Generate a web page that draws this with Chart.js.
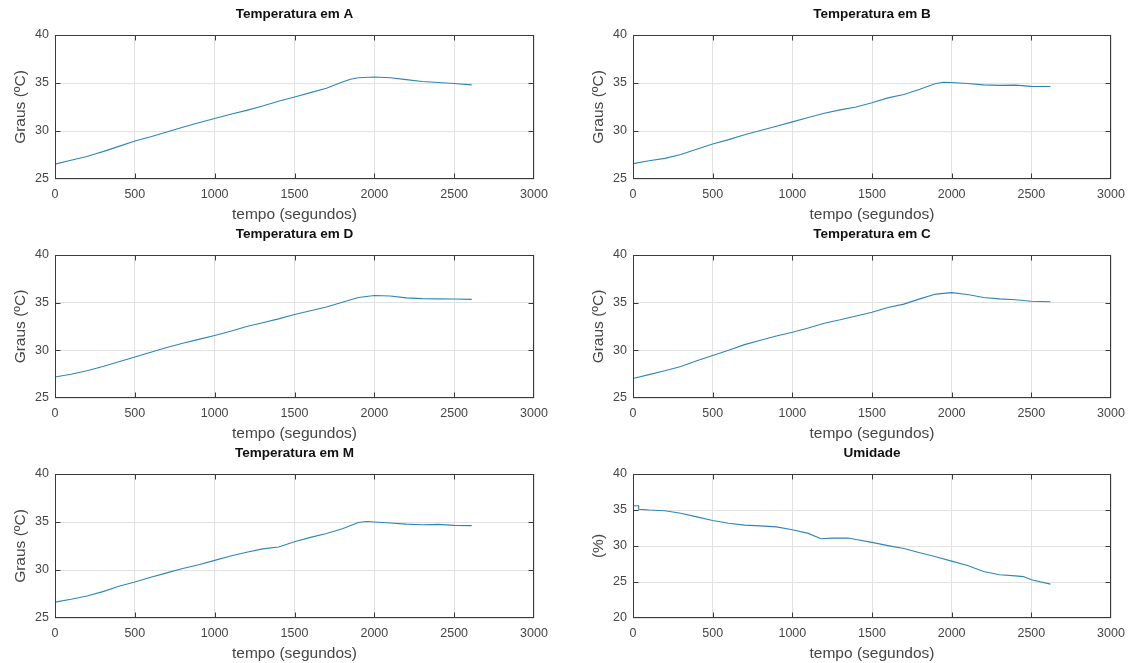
<!DOCTYPE html>
<html>
<head>
<meta charset="utf-8">
<script src="https://cdn.jsdelivr.net/npm/chart.js@4"></script>
<style>
  html, body { margin: 0; padding: 0; background: #fff; }
  body { width: 1129px; height: 663px; position: relative; overflow: hidden; }
  .panel { position: absolute; }
</style>
</head>
<body>
<div class="panel" id="p-a"><canvas id="c-a"></canvas></div>
<div class="panel" id="p-b"><canvas id="c-b"></canvas></div>
<div class="panel" id="p-d"><canvas id="c-d"></canvas></div>
<div class="panel" id="p-c"><canvas id="c-c"></canvas></div>
<div class="panel" id="p-m"><canvas id="c-m"></canvas></div>
<div class="panel" id="p-u"><canvas id="c-u"></canvas></div>
<script>
// valores
const tempoA = [0, 100, 200, 250, 300, 400, 500, 600, 700, 800, 900, 1000, 1100, 1200, 1300, 1400, 1500, 1600, 1700, 1800, 1850, 1900, 2000, 2100, 2200, 2300, 2400, 2500, 2610];
const grausA = [26.55, 26.95, 27.35, 27.6, 27.85, 28.4, 28.95, 29.4, 29.9, 30.4, 30.85, 31.3, 31.75, 32.15, 32.6, 33.1, 33.55, 34.0, 34.45, 35.1, 35.4, 35.55, 35.62, 35.55, 35.35, 35.15, 35.05, 34.95, 34.8];

const tempoB = [0, 100, 200, 300, 400, 500, 600, 700, 800, 900, 1000, 1100, 1200, 1300, 1400, 1500, 1600, 1700, 1800, 1900, 1950, 2000, 2100, 2200, 2300, 2400, 2500, 2620];
const grausB = [26.6, 26.9, 27.15, 27.55, 28.1, 28.65, 29.1, 29.6, 30.05, 30.5, 30.95, 31.4, 31.85, 32.2, 32.5, 32.95, 33.45, 33.8, 34.35, 34.95, 35.08, 35.05, 34.95, 34.8, 34.75, 34.78, 34.65, 34.63];

const tempoD = [0, 100, 200, 300, 400, 500, 600, 700, 800, 900, 1000, 1100, 1200, 1300, 1400, 1500, 1600, 1700, 1800, 1900, 2000, 2100, 2200, 2300, 2400, 2500, 2610];
const grausD = [27.2, 27.5, 27.85, 28.3, 28.8, 29.3, 29.8, 30.3, 30.75, 31.15, 31.55, 32.0, 32.5, 32.9, 33.3, 33.75, 34.15, 34.55, 35.05, 35.55, 35.75, 35.7, 35.5, 35.42, 35.4, 35.38, 35.35];

const tempoC = [0, 100, 200, 300, 400, 500, 600, 700, 800, 900, 1000, 1100, 1200, 1300, 1400, 1500, 1600, 1700, 1800, 1900, 2000, 2100, 2200, 2300, 2400, 2500, 2620];
const grausC = [27.05, 27.45, 27.85, 28.3, 28.9, 29.45, 30.0, 30.6, 31.05, 31.5, 31.9, 32.35, 32.85, 33.2, 33.6, 34.0, 34.5, 34.85, 35.4, 35.9, 36.05, 35.85, 35.55, 35.4, 35.3, 35.15, 35.1];

const tempoM = [0, 100, 200, 300, 400, 500, 600, 700, 800, 900, 1000, 1100, 1200, 1300, 1400, 1500, 1600, 1700, 1800, 1900, 1950, 2000, 2100, 2200, 2300, 2400, 2500, 2610];
const grausM = [26.65, 26.95, 27.3, 27.75, 28.3, 28.75, 29.25, 29.7, 30.15, 30.55, 31.0, 31.45, 31.85, 32.2, 32.4, 32.95, 33.4, 33.8, 34.3, 34.95, 35.05, 35.0, 34.9, 34.78, 34.72, 34.75, 34.65, 34.62];

const tempoU = [0, 1, 35, 36, 100, 200, 300, 400, 500, 600, 700, 800, 900, 1000, 1100, 1180, 1250, 1350, 1400, 1500, 1600, 1700, 1800, 1900, 2000, 2100, 2200, 2300, 2400, 2450, 2500, 2620];
const umidade = [35.1, 35.6, 35.6, 35.1, 35.0, 34.9, 34.55, 34.05, 33.55, 33.15, 32.9, 32.8, 32.65, 32.25, 31.75, 31.0, 31.1, 31.1, 30.9, 30.5, 30.05, 29.65, 29.05, 28.5, 27.9, 27.3, 26.45, 26.0, 25.85, 25.75, 25.3, 24.7];

const xTicks = [0, 500, 1000, 1500, 2000, 2500, 3000];
const tempTicks = [25, 30, 35, 40];
const umidTicks = [20, 25, 30, 35, 40];

const FONT = "'Liberation Sans', Arial, Helvetica, sans-serif";
const AXIS_COLOR = '#3a3a3a';
const TEXT_COLOR = '#454545';
const LINE_COLOR = '#2f86b4';

// posição das áreas de plotagem
const colLeft = [55, 633];
const colRight = [534, 1111];
const rowTop = [35, 255, 474];
const rowBottom = [179, 398, 618];
const Y_AXIS_W = 55;
const TOP_H = 34;
const BOTTOM_H = 46;
const PAD_RIGHT = 16;

const matlabBox = {
  id: 'matlabBox',
  afterDraw(chart) {
    const { ctx, chartArea: a } = chart;
    const x = chart.scales.x;
    const y = chart.scales.y;
    const len = 5;
    const l = Math.round(a.left) + 0.5;
    const r = Math.round(a.right) - 0.5;
    const t0 = Math.round(a.top) + 0.5;
    const b = Math.round(a.bottom) - 0.5;
    ctx.save();
    ctx.strokeStyle = AXIS_COLOR;
    ctx.lineWidth = 1;
    ctx.beginPath();
    x.ticks.forEach((t) => {
      const px = Math.min(Math.max(Math.round(x.getPixelForValue(t.value)) + 0.5, l), r);
      ctx.moveTo(px, t0);
      ctx.lineTo(px, t0 + len);
      ctx.moveTo(px, b);
      ctx.lineTo(px, b - len);
    });
    y.ticks.forEach((t) => {
      const py = Math.min(Math.max(Math.round(y.getPixelForValue(t.value)) + 0.5, t0), b);
      ctx.moveTo(l, py);
      ctx.lineTo(l + len, py);
      ctx.moveTo(r, py);
      ctx.lineTo(r - len, py);
    });
    ctx.stroke();
    ctx.strokeRect(l, t0, r - l, b - t0);
    ctx.restore();
  },
};

function makePanel(id, col, row, title, yLabel, tempo, valores, yMin, yMax, yTicks) {
  const left = colLeft[col] - Y_AXIS_W;
  const top = rowTop[row] - TOP_H;
  const width = colRight[col] - colLeft[col] + Y_AXIS_W + PAD_RIGHT;
  const height = rowBottom[row] - rowTop[row] + TOP_H + BOTTOM_H;

  const box = document.getElementById('p-' + id);
  box.style.left = left + 'px';
  box.style.top = top + 'px';
  box.style.width = width + 'px';
  box.style.height = height + 'px';

  const points = tempo.map((t, i) => ({ x: t, y: valores[i] }));

  return new Chart(document.getElementById('c-' + id), {
    type: 'line',
    data: {
      datasets: [{
        data: points,
        borderColor: LINE_COLOR,
        borderWidth: 1.1,
        pointRadius: 0,
        tension: 0,
        fill: false,
      }],
    },
    options: {
      responsive: true,
      maintainAspectRatio: false,
      animation: false,
      events: [],
      layout: { padding: { left: 0, right: PAD_RIGHT, top: 0, bottom: 0 } },
      plugins: {
        legend: { display: false },
        tooltip: { enabled: false },
      },
      scales: {
        x: {
          type: 'linear',
          position: 'bottom',
          min: 0,
          max: 3000,
          afterBuildTicks: (scale) => { scale.ticks = xTicks.map((v) => ({ value: v })); },
          afterFit: (scale) => {
            scale.height = BOTTOM_H;
            scale.paddingLeft = 0;
            scale.paddingRight = 0;
          },
          ticks: {
            color: TEXT_COLOR,
            padding: 8,
            maxRotation: 0,
            callback: (v) => String(v),
            font: { family: FONT, size: 12.5 },
          },
          grid: { color: '#e2e2e2', lineWidth: 1, drawTicks: false },
          border: { display: false },
          title: {
            display: true,
            text: 'tempo (segundos)',
            color: TEXT_COLOR,
            font: { family: FONT, size: 15.5 },
            padding: { top: 0, bottom: 1 },
          },
        },
        top: {
          type: 'linear',
          position: 'top',
          min: 0,
          max: 3000,
          afterFit: (scale) => {
            scale.height = TOP_H;
            scale.paddingLeft = 0;
            scale.paddingRight = 0;
          },
          ticks: { display: false },
          grid: { display: false },
          border: { display: false },
          title: {
            display: true,
            text: title,
            color: '#111',
            font: { family: FONT, size: 13.5, weight: 'bold' },
            padding: { top: 5, bottom: 0 },
          },
        },
        y: {
          min: yMin,
          max: yMax,
          afterBuildTicks: (scale) => { scale.ticks = yTicks.map((v) => ({ value: v })); },
          afterFit: (scale) => {
            scale.width = Y_AXIS_W;
            scale.paddingTop = 0;
            scale.paddingBottom = 0;
          },
          ticks: {
            color: TEXT_COLOR,
            padding: 6,
            callback: (v) => String(v),
            font: { family: FONT, size: 12.5 },
          },
          grid: { color: '#e2e2e2', lineWidth: 1, drawTicks: false },
          border: { display: false },
          title: {
            display: true,
            text: yLabel,
            color: TEXT_COLOR,
            font: { family: FONT, size: 15.5 },
            padding: { top: 11, bottom: 0 },
          },
        },
      },
    },
    plugins: [matlabBox],
  });
}

makePanel('a', 0, 0, 'Temperatura em A', 'Graus (ºC)', tempoA, grausA, 25, 40, tempTicks);
makePanel('b', 1, 0, 'Temperatura em B', 'Graus (ºC)', tempoB, grausB, 25, 40, tempTicks);
makePanel('d', 0, 1, 'Temperatura em D', 'Graus (ºC)', tempoD, grausD, 25, 40, tempTicks);
makePanel('c', 1, 1, 'Temperatura em C', 'Graus (ºC)', tempoC, grausC, 25, 40, tempTicks);
makePanel('m', 0, 2, 'Temperatura em M', 'Graus (ºC)', tempoM, grausM, 25, 40, tempTicks);
makePanel('u', 1, 2, 'Umidade', '(%)', tempoU, umidade, 20, 40, umidTicks);
</script>
</body>
</html>
